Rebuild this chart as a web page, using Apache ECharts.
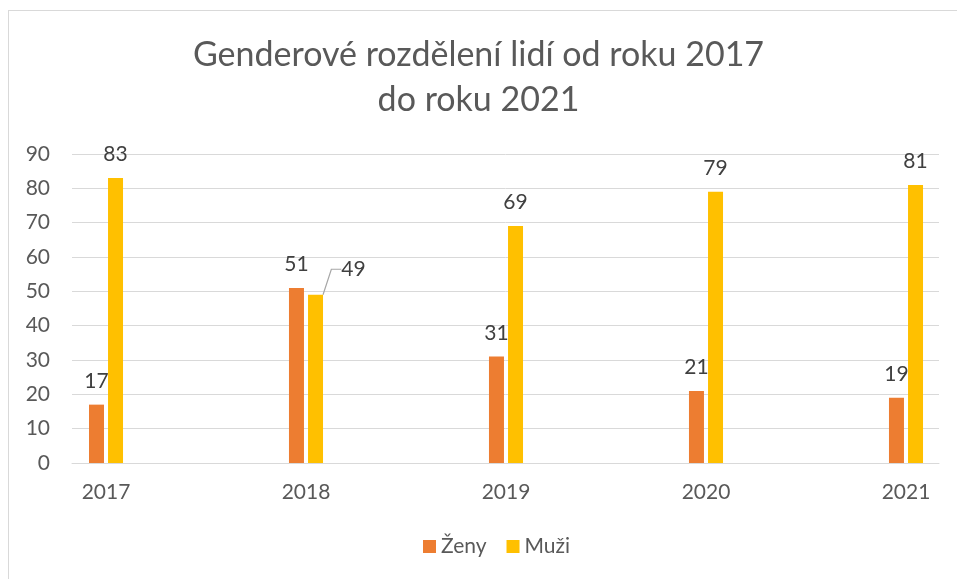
<!DOCTYPE html>
<html>
<head>
<meta charset="utf-8">
<script src="https://cdn.jsdelivr.net/npm/echarts@6/dist/echarts.min.js"></script>
<style>
  html, body { margin: 0; padding: 0; background: #fff; }
  #frame { position: absolute; left: 8px; top: 10px; width: 960px; height: 580px;
           border-left: 1px solid #d9d9d9; border-top: 1px solid #d9d9d9; }
  #chart { position: absolute; left: 0; top: 0; width: 957px; height: 579px; }
</style>
</head>
<body>
<div id="frame"></div>
<div id="chart"></div>
<script>
// Years shown on the horizontal axis
const years = [2017, 2018, 2019, 2020, 2021];
// Share of women and men per year
const zeny = [17, 51, 31, 21, 19];
const muzi = [83, 49, 69, 79, 81];
const yTicks = [0, 10, 20, 30, 40, 50, 60, 70, 80, 90];

const FONT = 'Lato, "Open Sans", sans-serif';
const TXT = '#595959';

const chart = echarts.init(document.getElementById('chart'));

function pairs(vals) {
  return years.map((y, i) => [y, vals[i]]);
}

const labelStyle = {
  show: true,
  position: 'top',
  distance: 13,
  color: '#404040',
  fontSize: 21,
  fontFamily: FONT
};

const muziData = pairs(muzi).map((p, i) => {
  // 2018 value label sits to the right with a callout line
  if (years[i] === 2018) {
    return { value: p, labelLine: { show: true, length2: 10, lineStyle: { color: '#a6a6a6', width: 1.2 } } };
  }
  return { value: p };
});

chart.setOption({
  animation: false,
  title: {
    text: 'Genderové rozdělení lidí od roku 2017\ndo roku 2021',
    left: 'center',
    top: 28,
    textStyle: { fontFamily: FONT, fontSize: 34, fontWeight: 'normal', color: TXT, lineHeight: 45 }
  },
  legend: {
    bottom: 17,
    left: 418,
    itemWidth: 13,
    itemHeight: 13,
    itemGap: 20,
    icon: 'rect',
    textStyle: { fontFamily: FONT, fontSize: 21, color: TXT },
    data: ['Ženy', 'Muži']
  },
  grid: { left: 72, right: 18, top: 154, bottom: 116 },
  xAxis: {
    type: 'value',
    min: 2016.83,
    max: 2021.165,
    splitLine: { show: false },
    axisTick: { show: false },
    axisLine: { show: true, lineStyle: { color: '#d9d9d9', width: 1 } },
    axisLabel: {
      customValues: years,
      margin: 19,
      fontFamily: FONT,
      fontSize: 21,
      color: TXT,
      formatter: v => String(Math.round(v))
    }
  },
  yAxis: {
    type: 'value',
    min: 0,
    max: 90,
    interval: 10,
    axisLine: { show: false },
    axisTick: { show: false },
    splitLine: { lineStyle: { color: '#d9d9d9', width: 1 } },
    axisLabel: {
      customValues: yTicks,
      margin: 22,
      fontFamily: FONT,
      fontSize: 21,
      color: TXT
    }
  },
  series: [
    {
      name: 'Ženy',
      type: 'bar',
      barWidth: 15,
      barGap: '27%',
      itemStyle: { color: '#ed7d31' },
      label: labelStyle,
      data: pairs(zeny)
    },
    {
      name: 'Muži',
      type: 'bar',
      barWidth: 15,
      barGap: '27%',
      itemStyle: { color: '#ffc000' },
      label: labelStyle,
      labelLayout: function (params) {
        if (params.dataIndex === 1) {
          return { dx: 38, dy: -2 };
        }
        return {};
      },
      data: muziData
    }
  ]
});
</script>
</body>
</html>
